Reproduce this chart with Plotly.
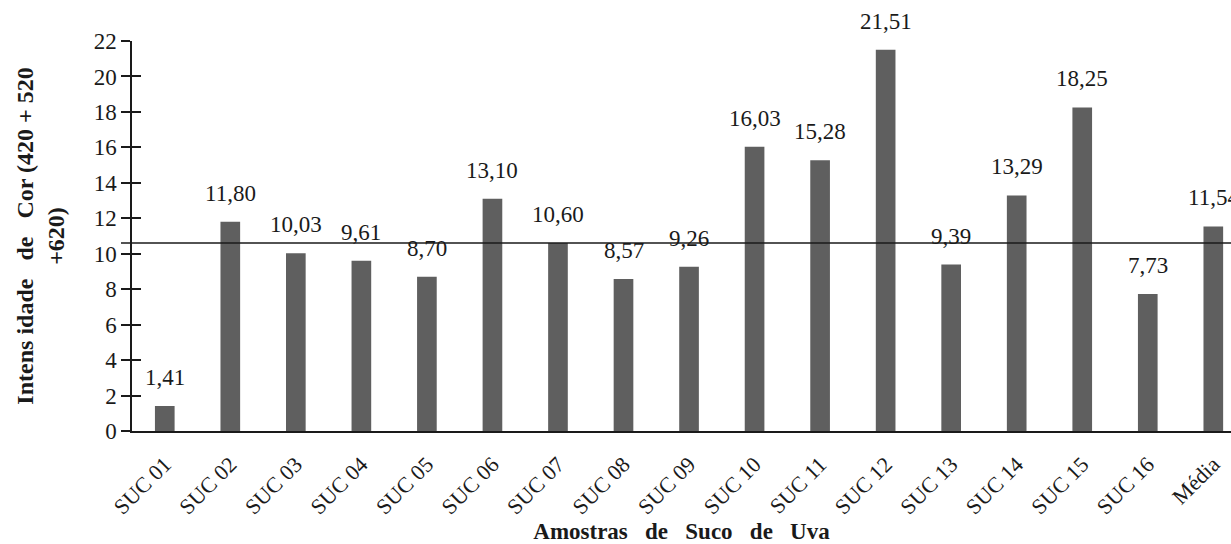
import plotly.graph_objects as go

# Colour intensity (420 + 520 + 620 nm) of grape juice samples
amostras = ["SUC 01", "SUC 02", "SUC 03", "SUC 04", "SUC 05", "SUC 06", "SUC 07",
            "SUC 08", "SUC 09", "SUC 10", "SUC 11", "SUC 12", "SUC 13", "SUC 14",
            "SUC 15", "SUC 16", "Média"]
intensidade = [1.41, 11.80, 10.03, 9.61, 8.70, 13.10, 10.60, 8.57, 9.26, 16.03,
               15.28, 21.51, 9.39, 13.29, 18.25, 7.73, 11.54]
linha_referencia = 10.6
y_ticks = list(range(0, 23, 2))

FONT = "Liberation Serif"
BAR = "#5f5f5f"
INK = "#1a1a1a"
SP = "&nbsp;&nbsp;&nbsp;"

labels = [f"{v:.2f}".replace(".", ",") for v in intensidade]
idx = list(range(len(amostras)))

fig = go.Figure()
fig.add_trace(go.Bar(
    x=idx, y=intensidade, width=0.3,
    marker=dict(color=BAR, line=dict(width=0)),
    showlegend=False, hoverinfo="skip",
))

for i, v, t in zip(idx, intensidade, labels):
    fig.add_annotation(x=i, y=v, text=t, showarrow=False, yanchor="bottom",
                       yshift=14, font=dict(family=FONT, size=23, color=INK))

# horizontal reference line across the plot
fig.add_shape(type="line", xref="paper", yref="y", x0=-0.01, x1=1,
              y0=linha_referencia, y1=linha_referencia,
              line=dict(color=INK, width=1.5))

fig.update_layout(
    width=1231, height=544,
    margin=dict(l=132, r=0, t=41, b=113),
    paper_bgcolor="white", plot_bgcolor="white",
    font=dict(family=FONT, color=INK),
    bargap=0.7,
    xaxis=dict(
        range=[-0.5, 16.27], tickmode="array", tickvals=idx, ticktext=amostras,
        tickangle=-45, tickfont=dict(family=FONT, size=22, color=INK),
        showline=True, linecolor=INK, linewidth=1.5,
        ticks="outside", ticklen=10, tickcolor="rgba(0,0,0,0)",
        showgrid=False, zeroline=False,
        title=dict(text=f"<b>Amostras{SP}de{SP}Suco{SP}de{SP}Uva</b>",
                   font=dict(family=FONT, size=23, color=INK), standoff=0),
    ),
    yaxis=dict(
        range=[0, 22], tickvals=y_ticks, tickfont=dict(family=FONT, size=23, color=INK),
        showline=True, linecolor=INK, linewidth=1.5,
        ticks="outside", ticklen=9, tickwidth=1.5, tickcolor=INK,
        showgrid=False, zeroline=False,
        title=dict(text=f"<b>Intens idade{SP}de{SP}Cor (420 + 520<br>+620)</b>",
                   font=dict(family=FONT, size=24, color=INK), standoff=22),
    ),
    yaxis2=dict(
        range=[0, 22], tickvals=y_ticks, overlaying="y", side="left",
        showticklabels=False, ticks="inside", ticklen=9, tickwidth=1.5,
        tickcolor=INK, showgrid=False, zeroline=False, showline=False,
    ),
)

# inner halves of the y ticks
fig.add_trace(go.Scatter(x=[None], y=[None], yaxis="y2", showlegend=False,
                         hoverinfo="skip"))

fig.write_html("out.html")
